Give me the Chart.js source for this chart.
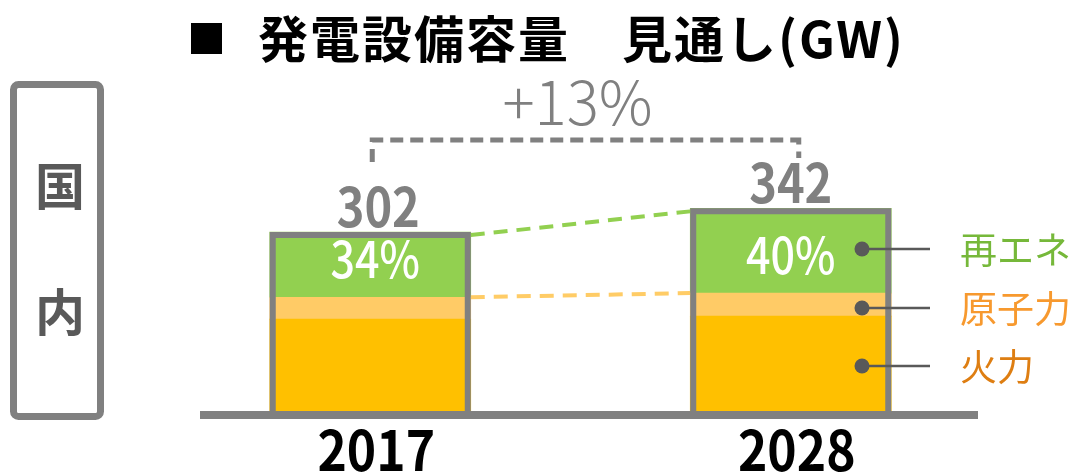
<!DOCTYPE html>
<html lang="ja">
<head>
    <meta charset="UTF-8">
    <title>発電設備容量 見通し</title>
    <script src="https://cdn.jsdelivr.net/npm/chart.js"></script>
    <style>
        body {
            margin: 0;
            background: #ffffff;
        }
        canvas {
            display: block;
        }
    </style>
</head>
<body>

<canvas id="capacityChart" width="1074" height="473"></canvas>

<script>
// 発電設備容量 (GW)
const years = ['2017', '2028'];
const thermal = [155, 160];
const nuclear = [37, 39];
const renewable = [110, 143];
const totals = [302, 342];
const shareLabels = ['34%', '40%'];
const growthLabel = '+13%';
const seriesNames = ['再エネ', '原子力', '火力'];

const FONT = '"Noto Sans CJK JP", "Noto Sans", sans-serif';
const GRAY = '#808080';

// centred text, squeezed horizontally a little like the original
function narrowText(ctx, text, x, y, sx) {
    ctx.save();
    ctx.translate(x, y);
    ctx.scale(sx, 1);
    ctx.fillText(text, 0, 0);
    ctx.restore();
}

const overlay = {
    id: 'overlay',
    afterDatasetsDraw(chart) {
        const ctx = chart.ctx;
        const y = chart.scales.y;
        const bottomMeta = chart.getDatasetMeta(0);
        const renewMeta = chart.getDatasetMeta(2);
        const nuclearMeta = chart.getDatasetMeta(1);
        const base = y.getPixelForValue(0);
        const lw = 6;

        ctx.save();

        // dashed connectors between the two bars
        const b0 = renewMeta.data[0], b1 = renewMeta.data[1];
        const r0 = b0.x + b0.width / 2, l1 = b1.x - b1.width / 2;
        ctx.setLineDash([14, 9]);
        ctx.lineWidth = 4;
        ctx.strokeStyle = '#92D050';
        ctx.beginPath();
        ctx.moveTo(r0, y.getPixelForValue(totals[0]) + 3);
        ctx.lineTo(l1, y.getPixelForValue(totals[1]) + 3);
        ctx.stroke();
        ctx.strokeStyle = '#FFCC66';
        ctx.beginPath();
        ctx.moveTo(r0, nuclearMeta.data[0].y);
        ctx.lineTo(l1, nuclearMeta.data[1].y);
        ctx.stroke();
        ctx.setLineDash([]);

        // outline around each stack
        ctx.strokeStyle = GRAY;
        ctx.lineWidth = lw;
        bottomMeta.data.forEach((bar, i) => {
            const top = y.getPixelForValue(totals[i]);
            const left = bar.x - bar.width / 2 + lw / 2;
            const right = bar.x + bar.width / 2 - lw / 2;
            ctx.beginPath();
            ctx.moveTo(left, base);
            ctx.lineTo(left, top + lw / 2);
            ctx.lineTo(right, top + lw / 2);
            ctx.lineTo(right, base);
            ctx.stroke();
        });

        // base line
        ctx.lineWidth = 8;
        ctx.beginPath();
        ctx.moveTo(200, base + 4);
        ctx.lineTo(978, base + 4);
        ctx.stroke();

        // totals, shares, years
        ctx.textAlign = 'center';
        ctx.textBaseline = 'alphabetic';
        bottomMeta.data.forEach((bar, i) => {
            const top = y.getPixelForValue(totals[i]);
            ctx.fillStyle = GRAY;
            ctx.font = 'bold 54px ' + FONT;
            narrowText(ctx, String(totals[i]), bar.x + (i === 0 ? 8 : 0), top - 5, 0.87);

            ctx.fillStyle = '#ffffff';
            ctx.font = '500 50px ' + FONT;
            narrowText(ctx, shareLabels[i], bar.x + (i === 0 ? 5 : 0), nuclearMeta.data[i].y - 19, 0.86);

            ctx.fillStyle = '#000000';
            ctx.font = 'bold 56px ' + FONT;
            narrowText(ctx, years[i], bar.x + 6, 471, 0.89);
        });

        // growth bracket
        const xa = bottomMeta.data[0].x + 2, xb = bottomMeta.data[1].x + 8;
        ctx.strokeStyle = GRAY;
        ctx.lineWidth = 5;
        ctx.setLineDash([13, 7]);
        ctx.beginPath();
        ctx.moveTo(xa, 162);
        ctx.lineTo(xa, 140);
        ctx.lineTo(xb, 140);
        ctx.lineTo(xb, 158);
        ctx.stroke();
        ctx.setLineDash([]);
        ctx.fillStyle = GRAY;
        ctx.font = '300 60px ' + FONT;
        ctx.fillText(growthLabel, (xa + xb) / 2 - 8, 125);

        // legend callouts on the 2028 bar
        const legendY = [249, 308, 366];
        const legendColors = ['#76B83A', '#F7992E', '#DE7E12'];
        ctx.textAlign = 'left';
        ctx.textBaseline = 'middle';
        legendY.forEach((ly, k) => {
            ctx.strokeStyle = '#595959';
            ctx.fillStyle = '#595959';
            ctx.lineWidth = 2.5;
            ctx.beginPath();
            ctx.moveTo(862, ly);
            ctx.lineTo(930, ly);
            ctx.stroke();
            ctx.beginPath();
            ctx.arc(862, ly, 7.5, 0, Math.PI * 2);
            ctx.fill();
            ctx.fillStyle = legendColors[k];
            ctx.font = '37px ' + FONT;
            ctx.fillText(seriesNames[k], 960, ly + 1);
        });

        // title
        ctx.fillStyle = '#000000';
        ctx.fillRect(191, 23, 31, 31);
        ctx.font = 'bold 50px ' + FONT;
        ctx.letterSpacing = '2px';
        ctx.fillText('発電設備容量　見通し(GW)', 258, 39);
        ctx.letterSpacing = '0px';

        // side box
        ctx.strokeStyle = GRAY;
        ctx.lineWidth = 7;
        ctx.beginPath();
        ctx.roundRect(13.5, 84.5, 87, 332, 5);
        ctx.stroke();
        ctx.fillStyle = '#595959';
        ctx.textAlign = 'center';
        ctx.font = 'bold 50px ' + FONT;
        ctx.fillText('国', 60, 186);
        ctx.fillText('内', 60, 312);

        ctx.restore();
    }
};

new Chart(document.getElementById('capacityChart'), {
    type: 'bar',
    data: {
        labels: years,
        datasets: [
            { label: '火力', data: thermal, backgroundColor: '#FFC000' },
            { label: '原子力', data: nuclear, backgroundColor: '#FFCB66' },
            { label: '再エネ', data: renewable, backgroundColor: '#92D050' }
        ]
    },
    options: {
        responsive: false,
        animation: false,
        layout: {
            padding: { left: 160, right: 73, top: 174, bottom: 62 }
        },
        datasets: {
            bar: { barThickness: 201, borderWidth: 0 }
        },
        plugins: {
            legend: { display: false },
            tooltip: { enabled: false }
        },
        scales: {
            x: { stacked: true, display: false },
            y: { stacked: true, display: false, min: 0, max: 400 }
        }
    },
    plugins: [overlay]
});
</script>

</body>
</html>
